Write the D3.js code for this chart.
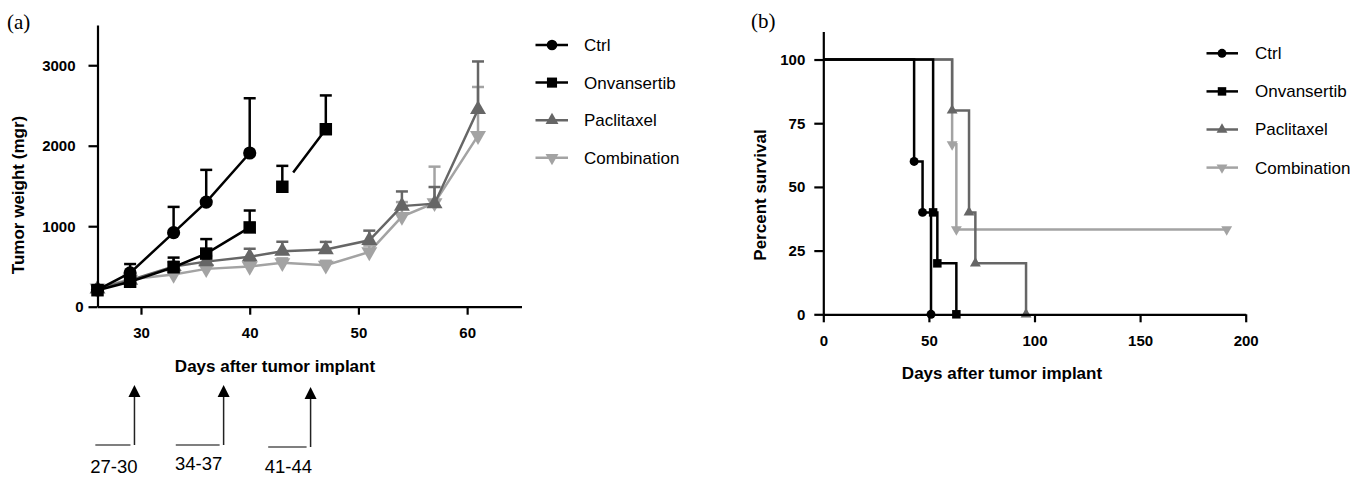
<!DOCTYPE html>
<html>
<head>
<meta charset="utf-8">
<script src="https://cdn.jsdelivr.net/npm/d3@7"></script>
<style>
  body { margin: 0; background: #fff; }
  svg text { font-family: "Liberation Sans", Arial, sans-serif; }
</style>
</head>
<body>
<div id="chart"></div>
<script>
const seriesNames = ["Ctrl", "Onvansertib", "Paclitaxel", "Combination"];

// (a) tumor weight, mean and SEM per measuring day
const days = [26, 29, 33, 36, 40, 43, 47, 51, 54, 57, 61];
const ctrlMean = [210, 420, 920, 1300, 1910];
const ctrlSem = [50, 110, 320, 400, 680];
const onvMean = [205, 310, 490, 660, 985, 1490, 2205];
const onvSem = [45, 40, 120, 180, 210, 260, 420];
const pacMean = [220, 330, 500, 560, 620, 690, 710, 825, 1250, 1280, 2450];
const pacSem = [40, 50, 60, 70, 100, 117, 95, 120, 182, 207, 597];
const comMean = [230, 340, 400, 470, 500, 545, 515, 680, 1120, 1290, 2125];
const comSem = [40, 40, 40, 50, 60, 55, 55, 80, 180, 450, 605];
// onvansertib line is broken between day 40 and 43
const onvSegments = [[0, 5], [5, 7]];
const weightTicks = [0, 1000, 2000, 3000];
const dayTicks = [30, 40, 50, 60];

// treatment windows under panel (a)
const treatLabels = ["27-30", "34-37", "41-44"];
const treatStart = [25.8, 33.2, 41.7];
const treatArrow = [29.4, 37.6, 45.6];

// (b) survival steps
const ctrlSurvDays = [0, 43, 47, 51];
const ctrlSurv = [100, 60, 40, 0];
const onvSurvDays = [0, 52, 54, 63];
const onvSurv = [100, 40, 20, 0];
const pacSurvDays = [0, 61, 69, 72, 96];
const pacSurv = [100, 80, 40, 20, 0];
const comSurvDays = [0, 61, 63, 191];
const comSurv = [100, 66.7, 33.3, 33.3];
const survTicks = [0, 25, 50, 75, 100];
const survDayTicks = [0, 50, 100, 150, 200];

const colors = { Ctrl: "#000", Onvansertib: "#000", Paclitaxel: "#666", Combination: "#a3a3a3" };
const shapes = {
  Ctrl: [d3.symbolCircle, 0],
  Onvansertib: [d3.symbolSquare, 0],
  Paclitaxel: [d3.symbolTriangle, 0],
  Combination: [d3.symbolTriangle, 180],
};

const svg = d3.select("#chart").append("svg")
  .attr("width", 1366).attr("height", 477)
  .style("background", "#fff");

function marker(g, name, x, y, size) {
  const [type, rot] = shapes[name];
  const s = type === d3.symbolCircle ? size * 1.05 : type === d3.symbolSquare ? size * 1.2 : size * 0.85;
  g.append("path")
    .attr("d", d3.symbol(type, s)())
    .attr("transform", `translate(${x},${y}) rotate(${rot})`)
    .attr("fill", colors[name]);
}

function styleAxis(g) {
  g.selectAll("path, line").attr("stroke", "#000").attr("stroke-width", 2.2);
  g.selectAll("text").attr("font-size", 15).attr("font-weight", "bold").attr("fill", "#000");
}

// ---------- panel (a) ----------
const xA = d3.scaleLinear().domain([26, 65]).range([97.5, 521.5]);
const yA = d3.scaleLinear().domain([0, 3500]).range([306.7, 25]);

svg.append("text").attr("x", 7).attr("y", 29).text("(a)")
  .style("font-family", "'Liberation Serif', 'Times New Roman', serif").attr("font-size", 21);

const growth = [
  { name: "Combination", mean: comMean, sem: comSem, segs: [[0, comMean.length]] },
  { name: "Paclitaxel", mean: pacMean, sem: pacSem, segs: [[0, pacMean.length]] },
  { name: "Onvansertib", mean: onvMean, sem: onvSem, segs: onvSegments },
  { name: "Ctrl", mean: ctrlMean, sem: ctrlSem, segs: [[0, ctrlMean.length]] },
];

const lineA = d3.line().x((d) => xA(d[0])).y((d) => yA(d[1]));
const plotA = svg.append("g");

growth.forEach((s) => {
  const pts = s.mean.map((v, i) => [days[i], v, s.sem[i]]);
  const g = plotA.append("g");
  s.segs.forEach(([a, b], k) => {
    const path = g.append("path")
      .attr("d", lineA(pts.slice(a, b)))
      .attr("fill", "none")
      .attr("stroke", colors[s.name])
      .attr("stroke-width", 2.5);
    if (k > 0) path.attr("stroke-dasharray", "0,18,400");
  });
  pts.forEach((p) => {
    const x = xA(p[0]);
    g.append("line").attr("x1", x).attr("x2", x)
      .attr("y1", yA(p[1])).attr("y2", yA(p[1] + p[2]))
      .attr("stroke", colors[s.name]).attr("stroke-width", 2.5);
    g.append("line").attr("x1", x - 6).attr("x2", x + 6)
      .attr("y1", yA(p[1] + p[2])).attr("y2", yA(p[1] + p[2]))
      .attr("stroke", colors[s.name]).attr("stroke-width", 2.5);
    marker(g, s.name, x, yA(p[1]), 130);
  });
});

svg.append("g").attr("transform", "translate(97.5,0)")
  .call(d3.axisLeft(yA).tickValues(weightTicks).tickFormat(d3.format("d"))
    .tickSize(9).tickPadding(13).tickSizeOuter(0))
  .call(styleAxis)
  .call((g) => g.selectAll(".tick text").filter((d) => d === 0).attr("dx", 8));

svg.append("g").attr("transform", "translate(0,306.7)")
  .call(d3.axisBottom(xA).tickValues(dayTicks).tickFormat(d3.format("d"))
    .tickSize(8).tickPadding(13).tickSizeOuter(0))
  .call(styleAxis);

svg.append("text").attr("x", 275).attr("y", 372).attr("text-anchor", "middle")
  .attr("font-size", 17).attr("font-weight", "bold").text("Days after tumor implant");
svg.append("text").attr("transform", "translate(23.5,195) rotate(-90)").attr("text-anchor", "middle")
  .attr("font-size", 17).attr("font-weight", "bold").text("Tumor weight (mgr)");

// treatment arrows
const treat = svg.append("g");
treatLabels.forEach((lab, i) => {
  const xa = xA(treatArrow[i]);
  const x0 = xA(treatStart[i]);
  const yb = i === 2 ? 447 : 445;
  treat.append("line").attr("x1", x0).attr("x2", xa - 4).attr("y1", yb).attr("y2", yb)
    .attr("stroke", "#555").attr("stroke-width", 1.3);
  treat.append("line").attr("x1", xa).attr("x2", xa).attr("y1", yb).attr("y2", 395)
    .attr("stroke", "#222").attr("stroke-width", 1.5);
  treat.append("path")
    .attr("d", `M${xa},${yb - 60}L${xa - 6},${yb - 48}L${xa + 6},${yb - 48}Z`)
    .attr("fill", "#000");
  treat.append("text").attr("x", (x0 + xa) / 2 - 1).attr("y", i === 1 ? 470 : 473)
    .attr("text-anchor", "middle").attr("font-size", 18.5).text(lab);
});

// legend (a)
const legA = svg.append("g");
seriesNames.forEach((name, i) => {
  const y = 45 + i * 37.6;
  legA.append("line").attr("x1", 535.5).attr("x2", 568).attr("y1", y).attr("y2", y)
    .attr("stroke", colors[name]).attr("stroke-width", 2.5);
  marker(legA, name, 552, y, 85);
  legA.append("text").attr("x", 584).attr("y", y).attr("dy", "0.35em")
    .attr("font-size", 17).text(name);
});

// ---------- panel (b) ----------
const xB = d3.scaleLinear().domain([0, 200]).range([823.3, 1245.7]);
const yB = d3.scaleLinear().domain([0, 111]).range([314.3, 31.5]);

svg.append("text").attr("x", 751).attr("y", 28).text("(b)")
  .style("font-family", "'Liberation Serif', 'Times New Roman', serif").attr("font-size", 21);

const survival = [
  { name: "Combination", d: comSurvDays, v: comSurv },
  { name: "Paclitaxel", d: pacSurvDays, v: pacSurv },
  { name: "Onvansertib", d: onvSurvDays, v: onvSurv },
  { name: "Ctrl", d: ctrlSurvDays, v: ctrlSurv },
];

const lineB = d3.line().curve(d3.curveStepAfter).x((d) => xB(d[0])).y((d) => yB(d[1]));
const plotB = svg.append("g");

survival.forEach((s) => {
  const pts = s.d.map((d, i) => [d, s.v[i]]);
  const g = plotB.append("g");
  g.append("path").attr("d", lineB(pts))
    .attr("fill", "none").attr("stroke", colors[s.name]).attr("stroke-width", 2.5);
  pts.slice(1).forEach((p) => marker(g, s.name, xB(p[0]), yB(p[1]), 60));
});

svg.append("g").attr("transform", "translate(823.3,0)")
  .call(d3.axisLeft(yB).tickValues(survTicks).tickFormat(d3.format("d"))
    .tickSize(9).tickPadding(9).tickSizeOuter(0))
  .call(styleAxis);

svg.append("g").attr("transform", "translate(0,314.3)")
  .call(d3.axisBottom(xB).tickValues(survDayTicks).tickFormat(d3.format("d"))
    .tickSize(8).tickPadding(13).tickSizeOuter(0))
  .call(styleAxis);

svg.append("text").attr("x", 1002).attr("y", 379).attr("text-anchor", "middle")
  .attr("font-size", 17).attr("font-weight", "bold").text("Days after tumor implant");
svg.append("text").attr("transform", "translate(766,195) rotate(-90)").attr("text-anchor", "middle")
  .attr("font-size", 17).attr("font-weight", "bold").text("Percent survival");

// legend (b)
const legB = svg.append("g");
seriesNames.forEach((name, i) => {
  const y = 53.3 + i * 38.1;
  legB.append("line").attr("x1", 1206.5).attr("x2", 1238).attr("y1", y).attr("y2", y)
    .attr("stroke", colors[name]).attr("stroke-width", 2.5);
  marker(legB, name, 1222, y, 60);
  legB.append("text").attr("x", 1255).attr("y", y).attr("dy", "0.35em")
    .attr("font-size", 17).text(name);
});
</script>
</body>
</html>
